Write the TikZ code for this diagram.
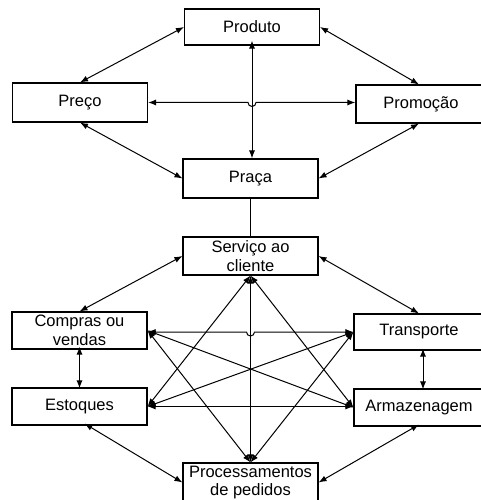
\documentclass[tikz,border=0pt]{standalone}
\usepackage{fontspec}
\setmainfont{Liberation Sans}
\usetikzlibrary{arrows.meta,calc}
\begin{document}
\begin{tikzpicture}[x=1pt,y=-1pt,
  box/.style={draw,line width=1.1pt,inner sep=0pt,align=center,
    font=\fontsize{16.5}{18.5}\selectfont,minimum height=37pt},
  wide/.style={minimum width=135pt},
  edge/.style={minimum width=130pt},
  link/.style={line width=1pt,{Latex[length=8pt,width=6pt]}-{Latex[length=8pt,width=6pt]}},
  plain/.style={line width=0.8pt}]
\useasboundingbox (0,0) rectangle (481,500);

% marketing mix
\node[box,wide,minimum height=36pt] (produto) at (252,27) {Produto};
\node[box,wide,minimum height=39pt] (preco) at (80,102.5) {Preço};
\node[box,edge,minimum height=38pt] (promocao) at (421,104) {Promoção};
\node[box,wide,minimum height=39pt] (praca) at (250.5,178.5) {Praça};

% logistics activities
\node[box,wide,minimum height=38pt] (servico) at (250.5,256) {Serviço ao\\cliente};
\node[box,wide] (compras) at (79.5,330.5) {Compras ou\\vendas};
\node[box,edge,minimum height=36pt] (transporte) at (419,332) {Transporte};
\node[box,wide] (estoques) at (79.5,406.5) {Estoques};
\node[box,edge] (armazenagem) at (419,407.5) {Armazenagem};
\node[box,wide,minimum height=39pt] (pedidos) at (250.5,482.5) {Processamentos\\de pedidos};

% upper block connectors
\coordinate (hopA) at (produto.south |- preco.east);
\draw[link] (preco.north) -- (produto.west);
\draw[link] (produto.east) -- ([xshift=-2pt]promocao.north);
\draw[link] (preco.south) -- (praca.west);
\draw[link] ([xshift=-2pt]promocao.south) -- (praca.east);
\draw[link] ([yshift=5pt]produto.south) -- (produto.south |- praca.north);
\draw[link] (preco.east) -- ($(hopA)+(-4,0)$)
  arc[start angle=180,end angle=0,radius=4] -- (preco.east -| promocao.west);
\draw[plain] (praca.south) -- (servico.north);

% lower block connectors
\coordinate (hopB) at (servico.south |- transporte.west);
\draw[link] (servico.west) -- (compras.north);
\draw[link] (servico.east) -- (transporte.north);
\draw[link] ([yshift=3pt]compras.south) -- ([yshift=-1pt]estoques.north);
\draw[link] ([xshift=4pt,yshift=2pt]transporte.south) -- ([xshift=4pt,yshift=-1pt]armazenagem.north);
\draw[link] ([xshift=5pt,yshift=2pt]estoques.south) -- (pedidos.west);
\draw[link] ([yshift=2pt]armazenagem.south) -- (pedidos.east);
\draw[link] (compras.east |- transporte.west) -- ($(hopB)+(-4,0)$)
  arc[start angle=180,end angle=0,radius=4] -- (transporte.west);
\draw[link] (estoques.east) -- (estoques.east -| armazenagem.west);
\draw[link] (compras.east) -- (armazenagem.west);
\draw[link] (estoques.east) -- (transporte.west);
\draw[link] (servico.south) -- (pedidos.north);
\draw[link] (servico.south) -- (estoques.east);
\draw[link] (servico.south) -- (armazenagem.west);
\draw[link] (compras.east) -- (pedidos.north);
\draw[link] (transporte.west) -- (pedidos.north);
\end{tikzpicture}
\end{document}
